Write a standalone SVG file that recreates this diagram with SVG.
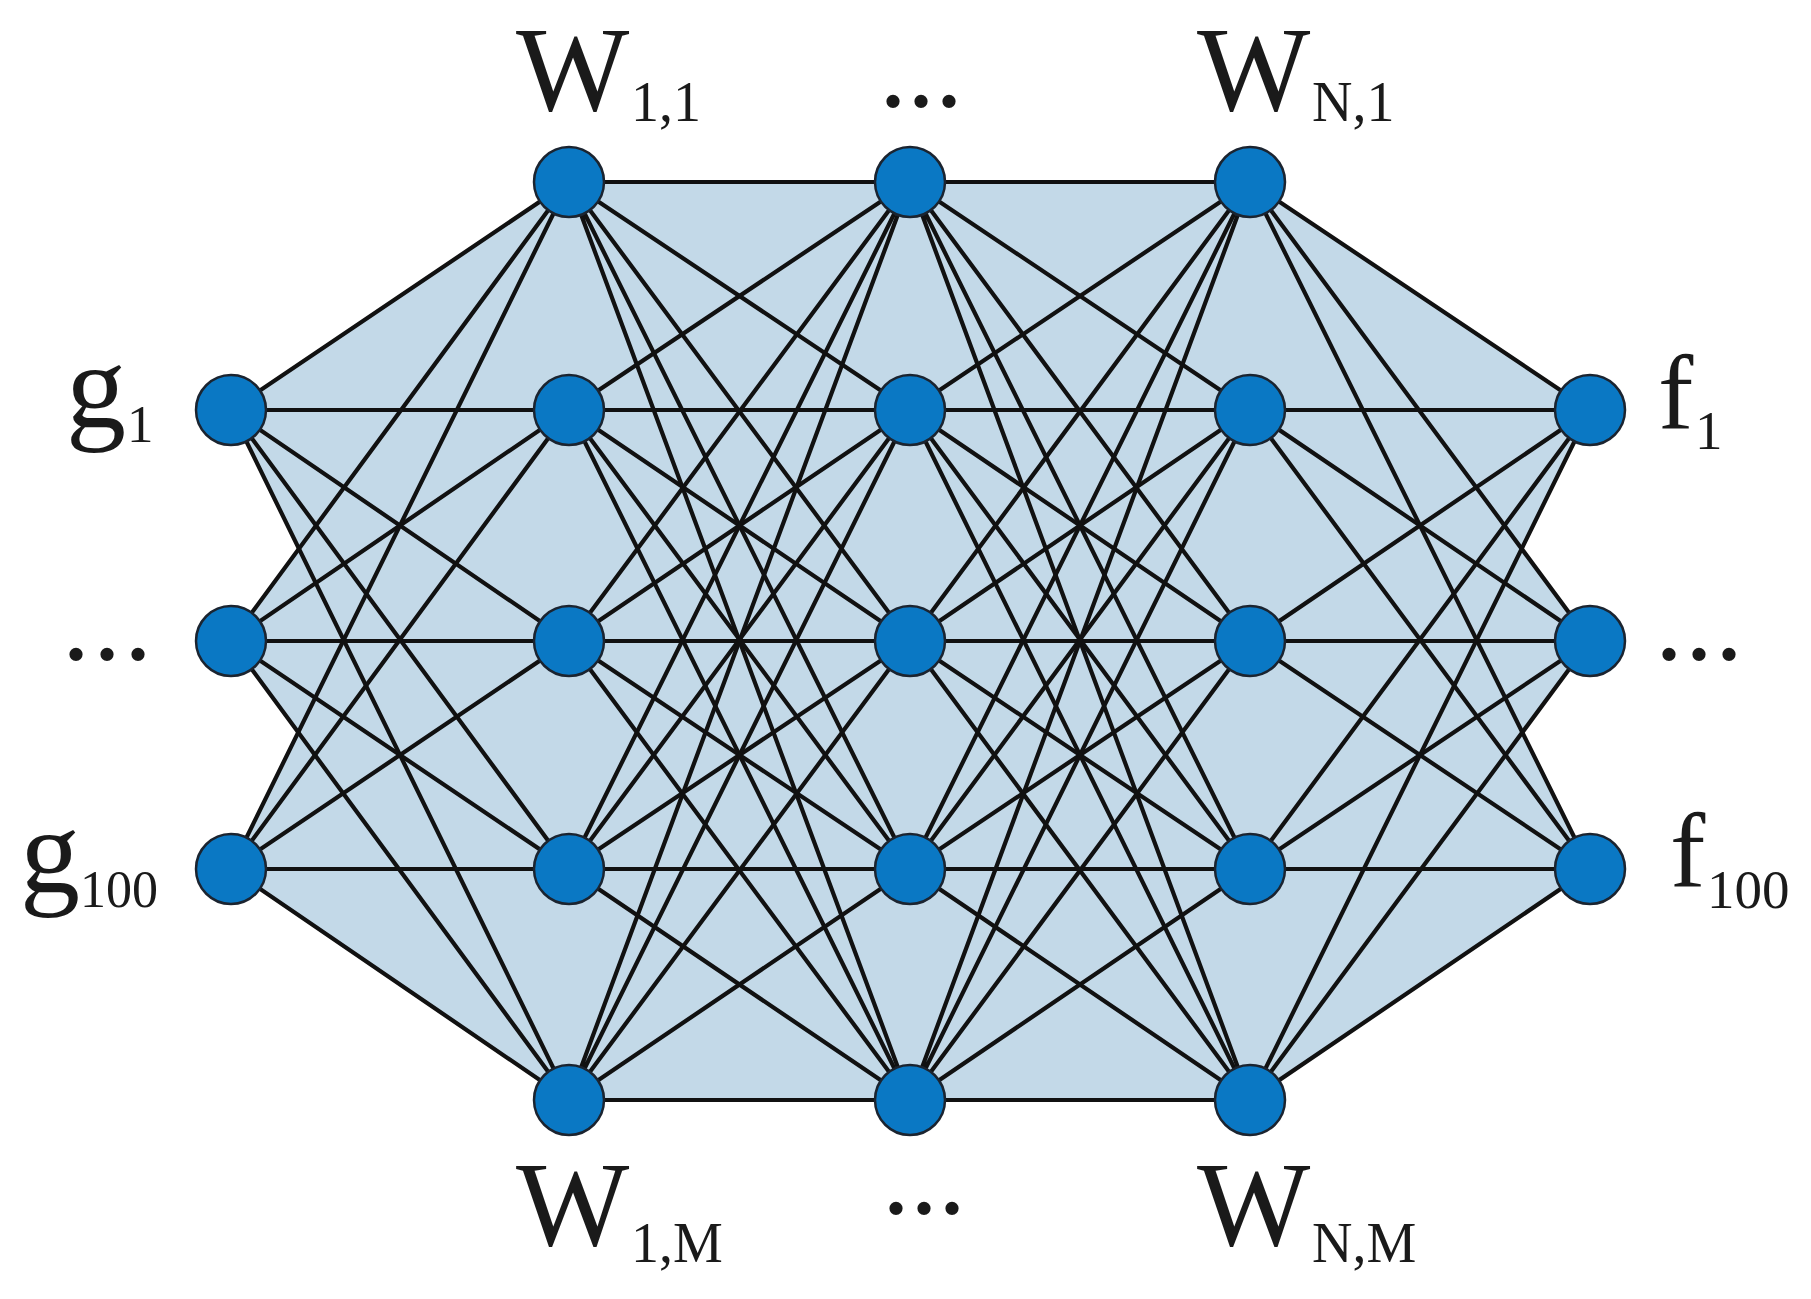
<svg xmlns="http://www.w3.org/2000/svg" width="1811" height="1299" viewBox="0 0 1811 1299">
<style>
.bg{fill:#c3d9e8;stroke:none}
.e{stroke:#111;stroke-width:4.2;fill:none;stroke-linecap:round}
.n{fill:#0a78c4;stroke:#1b2430;stroke-width:2.5}
.t{font-family:"Liberation Serif","Times New Roman",serif;fill:#1a1a1a}
</style>
<rect width="1811" height="1299" fill="#fff"/>
<polygon class="bg" points="231,410 569,182 1250,182 1590,410 1522,549 1590,641 1522,732 1590,869 1250,1100 569,1100 231,869 298,732 231,641 299,549"/>
<g id="connectors" class="e">
<path d="M231,410L569,182M231,410L569,410M231,410L569,641M231,410L569,869M231,410L569,1100"/>
<path d="M231,641L569,182M231,641L569,410M231,641L569,641M231,641L569,869M231,641L569,1100"/>
<path d="M231,869L569,182M231,869L569,410M231,869L569,641M231,869L569,869M231,869L569,1100"/>
<path d="M569,182L910,182M569,182L910,410M569,182L910,641M569,182L910,869M569,182L910,1100"/>
<path d="M569,410L910,182M569,410L910,410M569,410L910,641M569,410L910,869M569,410L910,1100"/>
<path d="M569,641L910,182M569,641L910,410M569,641L910,641M569,641L910,869M569,641L910,1100"/>
<path d="M569,869L910,182M569,869L910,410M569,869L910,641M569,869L910,869M569,869L910,1100"/>
<path d="M569,1100L910,182M569,1100L910,410M569,1100L910,641M569,1100L910,869M569,1100L910,1100"/>
<path d="M910,182L1250,182M910,182L1250,410M910,182L1250,641M910,182L1250,869M910,182L1250,1100"/>
<path d="M910,410L1250,182M910,410L1250,410M910,410L1250,641M910,410L1250,869M910,410L1250,1100"/>
<path d="M910,641L1250,182M910,641L1250,410M910,641L1250,641M910,641L1250,869M910,641L1250,1100"/>
<path d="M910,869L1250,182M910,869L1250,410M910,869L1250,641M910,869L1250,869M910,869L1250,1100"/>
<path d="M910,1100L1250,182M910,1100L1250,410M910,1100L1250,641M910,1100L1250,869M910,1100L1250,1100"/>
<path d="M1250,182L1590,410M1250,182L1590,641M1250,182L1590,869"/>
<path d="M1250,410L1590,410M1250,410L1590,641M1250,410L1590,869"/>
<path d="M1250,641L1590,410M1250,641L1590,641M1250,641L1590,869"/>
<path d="M1250,869L1590,410M1250,869L1590,641M1250,869L1590,869"/>
<path d="M1250,1100L1590,410M1250,1100L1590,641M1250,1100L1590,869"/>
</g>
<g id="input-g1"><circle class="n" cx="231" cy="410" r="35"/><text class="t" x="66" y="427" font-size="120">g</text><text class="t" x="127" y="442" font-size="53">1</text></g>
<g id="input-dots"><circle class="n" cx="231" cy="641" r="35"/><text class="t" x="62" y="659" font-size="112" letter-spacing="3">...</text></g>
<g id="input-g100"><circle class="n" cx="231" cy="869" r="35"/><text class="t" x="20" y="892" font-size="120">g</text><text class="t" x="80" y="907" font-size="52">100</text></g>
<g id="w11"><circle class="n" cx="569" cy="182" r="35"/><text class="t" x="516" y="110" font-size="120">W</text><text class="t" x="631" y="121" font-size="56">1,1</text></g>
<g id="w12"><circle class="n" cx="569" cy="410" r="35"/></g>
<g id="w13"><circle class="n" cx="569" cy="641" r="35"/></g>
<g id="w14"><circle class="n" cx="569" cy="869" r="35"/></g>
<g id="w1m"><circle class="n" cx="569" cy="1100" r="35"/><text class="t" x="516" y="1245" font-size="120">W</text><text class="t" x="631" y="1262" font-size="56">1,M</text></g>
<g id="wmid1"><circle class="n" cx="910" cy="182" r="35"/><text class="t" x="879" y="106" font-size="112">...</text></g>
<g id="wmid2"><circle class="n" cx="910" cy="410" r="35"/></g>
<g id="wmid3"><circle class="n" cx="910" cy="641" r="35"/></g>
<g id="wmid4"><circle class="n" cx="910" cy="869" r="35"/></g>
<g id="wmid5"><circle class="n" cx="910" cy="1100" r="35"/><text class="t" x="882" y="1213" font-size="112">...</text></g>
<g id="wn1"><circle class="n" cx="1250" cy="182" r="35"/><text class="t" x="1197" y="110" font-size="120">W</text><text class="t" x="1312" y="121" font-size="56">N,1</text></g>
<g id="wn2"><circle class="n" cx="1250" cy="410" r="35"/></g>
<g id="wn3"><circle class="n" cx="1250" cy="641" r="35"/></g>
<g id="wn4"><circle class="n" cx="1250" cy="869" r="35"/></g>
<g id="wnm"><circle class="n" cx="1250" cy="1100" r="35"/><text class="t" x="1197" y="1245" font-size="120">W</text><text class="t" x="1312" y="1262" font-size="56">N,M</text></g>
<g id="output-f1"><circle class="n" cx="1590" cy="410" r="35"/><text class="t" x="1658" y="428" font-size="106">f</text><text class="t" x="1695" y="449" font-size="55">1</text></g>
<g id="output-dots"><circle class="n" cx="1590" cy="641" r="35"/><text class="t" x="1655" y="659" font-size="112" letter-spacing="2">...</text></g>
<g id="output-f100"><circle class="n" cx="1590" cy="869" r="35"/><text class="t" x="1670" y="886" font-size="106">f</text><text class="t" x="1707" y="908" font-size="55">100</text></g>
</svg>
